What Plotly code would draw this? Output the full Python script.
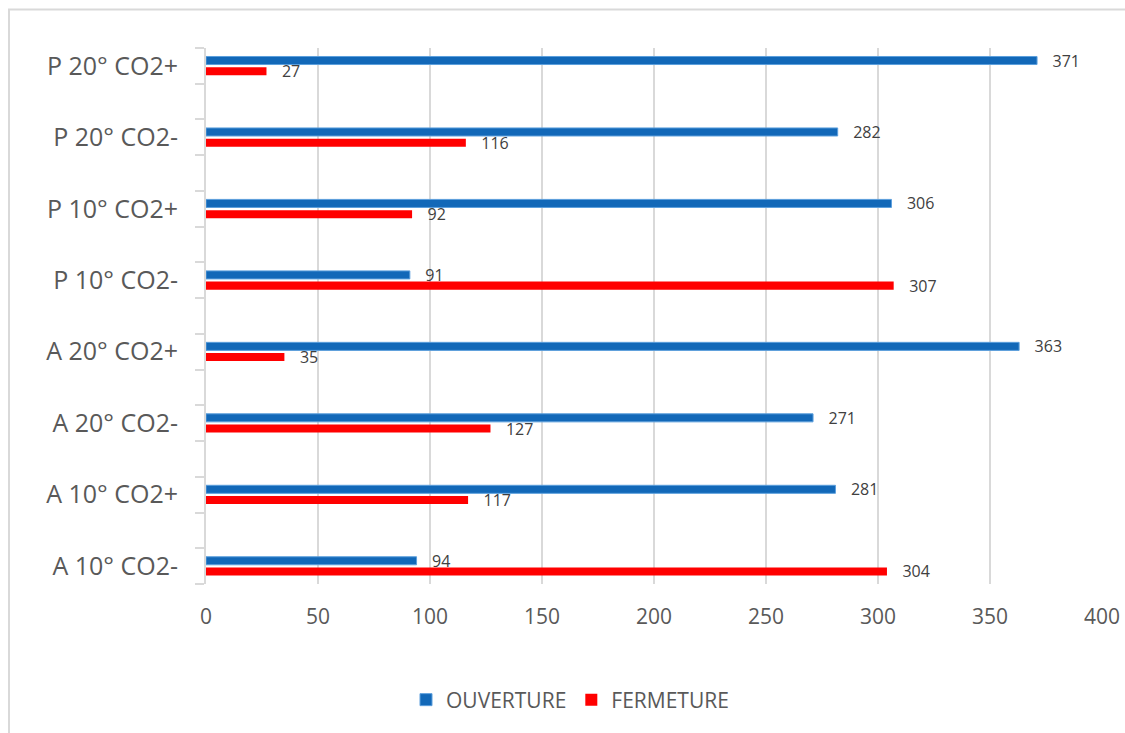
import plotly.graph_objects as go

categories = ["P 20° CO2+", "P 20° CO2-", "P 10° CO2+", "P 10° CO2-",
              "A 20° CO2+", "A 20° CO2-", "A 10° CO2+", "A 10° CO2-"]
ouverture = [371, 282, 306, 91, 363, 271, 281, 94]
fermeture = [27, 116, 92, 307, 35, 127, 117, 304]
x_ticks = [0, 50, 100, 150, 200, 250, 300, 350, 400]

pos = list(range(len(categories)))
boundaries = [p - 0.25 for p in pos] + [p + 0.25 for p in pos]

FONT = "Open Sans"
NB = "\u00a0\u00a0\u00a0"

fig = go.Figure()
fig.add_trace(go.Bar(
    y=pos, x=ouverture, orientation="h", name="OUVERTURE",
    marker=dict(color="#1268b8", line=dict(color="#5c9fdc", width=1)),
    text=[NB + str(v) for v in ouverture], textposition="outside",
    textfont=dict(family=FONT, size=16, color="#404040"),
    constraintext="none", cliponaxis=False, legendrank=1,
))
fig.add_trace(go.Bar(
    y=pos, x=fermeture, orientation="h", name="FERMETURE",
    marker=dict(color="#ff0000", line=dict(width=0)),
    text=[NB + str(v) for v in fermeture], textposition="outside",
    textfont=dict(family=FONT, size=16, color="#404040"),
    constraintext="none", cliponaxis=False, legendrank=2,
))

L, R, T, B = 206, 23, 48, 149
W, H = 1125, 733
pw, ph = W - L - R, H - T - B

def px_x(v):
    return (v - L) / pw

def px_y(v):
    return (H - B - v) / ph

fig.update_layout(
    width=W, height=H,
    margin=dict(l=L, r=R, t=T, b=B, autoexpand=False),
    paper_bgcolor="white", plot_bgcolor="white",
    barmode="group", bargap=0.70, bargroupgap=0.25,
    font=dict(family=FONT, color="#595959"),
    xaxis=dict(range=[0, 400], tickvals=x_ticks, showgrid=True,
               gridcolor="#d9d9d9", gridwidth=1.5, zeroline=False,
               showline=False, ticks="", tickfont=dict(size=21, color="#595959"),
               ticklabelstandoff=18, automargin=False),
    yaxis=dict(range=[7.25, -0.25], tickvals=pos, ticktext=categories,
               showgrid=False, zeroline=False, showline=True,
               linecolor="#d9d9d9", linewidth=2, ticks="",
               tickfont=dict(size=25, color="#595959"),
               ticklabelstandoff=21, automargin=False,
               minor=dict(tickvals=boundaries, ticks="outside", ticklen=9,
                          tickcolor="#d9d9d9", tickwidth=2, showgrid=False)),
    legend=dict(orientation="h", x=px_x(570), y=px_y(700), xanchor="center",
                yanchor="middle", font=dict(size=21, color="#595959"),
                traceorder="normal"),
    showlegend=True,
    shapes=[dict(type="rect", xref="paper", yref="paper",
                 x0=px_x(9), x1=px_x(1135), y0=px_y(745), y1=px_y(9.5),
                 line=dict(color="#d9d9d9", width=2), layer="below")],
)

fig.write_html("out.html")
